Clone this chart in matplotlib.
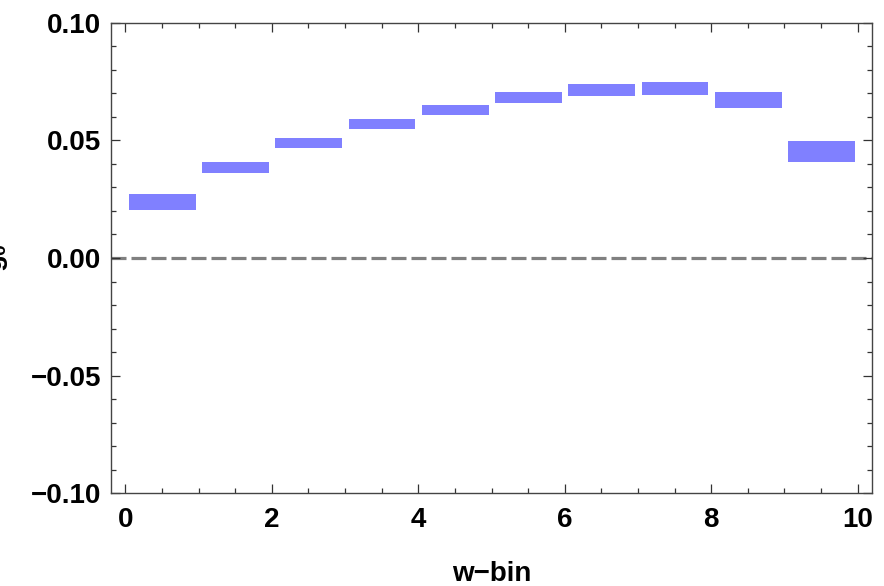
import matplotlib
matplotlib.use("Agg")
import matplotlib.pyplot as plt
import numpy as np
from matplotlib.ticker import MultipleLocator

plt.rcParams['font.family'] = ['Liberation Sans', 'DejaVu Sans']
plt.rcParams['font.weight'] = 'bold'
plt.rcParams['mathtext.fontset'] = 'custom'
plt.rcParams['mathtext.rm'] = 'Liberation Sans:bold'
plt.rcParams['mathtext.it'] = 'Liberation Sans:bold'
plt.rcParams['lines.scale_dashes'] = False

# w-bin index and the band (lower / upper) for each bin
bins = np.arange(10)
lower = [0.0205, 0.0363, 0.0469, 0.0549, 0.0609, 0.0660, 0.0690, 0.0694, 0.0639, 0.0409]
upper = [0.0273, 0.0408, 0.0510, 0.0591, 0.0650, 0.0705, 0.0739, 0.0748, 0.0705, 0.0497]
x_ticks = [0, 2, 4, 6, 8, 10]
y_ticks = [-0.10, -0.05, 0.00, 0.05, 0.10]
y_ticklabels = ["\u22120.10", "\u22120.05", "0.00", "0.05", "0.10"]

fig = plt.figure(figsize=(8.84, 5.86), dpi=100)
ax = fig.add_axes([0.1252, 0.1582, 0.8616, 0.8031])

heights = np.array(upper) - np.array(lower)
ax.bar(bins + 0.05, heights, bottom=lower, width=0.91, align='edge',
       color='#8080ff', linewidth=0, zorder=2)

# dashed zero line
ax.axhline(0, color='#808080', lw=2.3, dashes=(10.8, 3.6), zorder=1)

ax.set_xlim(-0.2, 10.2)
ax.set_ylim(-0.1, 0.1)
ax.set_xticks(x_ticks)
ax.set_xticklabels([str(t) for t in x_ticks])
ax.set_yticks(y_ticks)
ax.set_yticklabels(y_ticklabels)
ax.xaxis.set_minor_locator(MultipleLocator(0.5))
ax.yaxis.set_minor_locator(MultipleLocator(0.01))

ax.tick_params(which='both', direction='in', top=True, right=True,
               labelsize=20, colors='#333333', labelcolor='black', width=0.9)
ax.tick_params(which='major', length=6.5)
ax.tick_params(which='minor', length=3.8)
ax.tick_params(axis='y', which='major', pad=7)
ax.tick_params(axis='x', which='major', pad=10)

for s in ax.spines.values():
    s.set_color('#444444')
    s.set_linewidth(1.0)

ax.set_xlabel("w\u2212bin", fontsize=20, fontweight='bold', labelpad=20)
# y label sits mostly outside the canvas, as in the original
fig.text(10 / 884, 1 - 258 / 586, r"$g_{0}$", fontsize=20, rotation=90,
         ha='right', va='center')

fig.savefig("out.png", dpi=100)
